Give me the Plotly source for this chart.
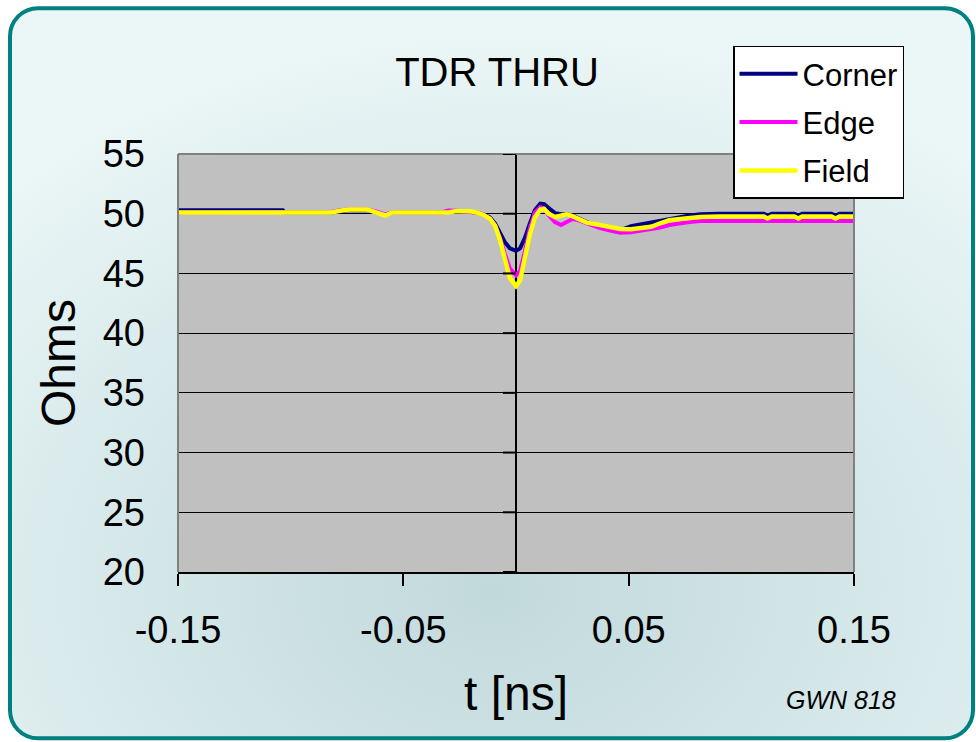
import base64
import plotly.graph_objects as go

# ---- TDR thru measurements (impedance in ohms vs time in ns) ----
t_ns = [-0.150, -0.1035, -0.1025, -0.082, -0.078, -0.074, -0.066, -0.062, -0.058, -0.055,
        -0.033, -0.030, -0.027, -0.020, -0.0175, -0.0145, -0.0116, -0.0093, -0.0071, -0.0049,
        -0.0027, 0.0, 0.0018, 0.0040, 0.0062, 0.0084, 0.0108, 0.0125, 0.0144, 0.0173,
        0.0200, 0.0225, 0.0250, 0.0270, 0.0314, 0.0373, 0.0418, 0.0462, 0.0510, 0.0551,
        0.0600, 0.0640, 0.0680, 0.0729, 0.0770, 0.0818, 0.0900, 0.1100, 0.1116, 0.1135,
        0.1235, 0.1253, 0.1270, 0.1400, 0.1418, 0.1436, 0.150]

corner = [50.3, 50.3, 50.1, 50.1, 50.2, 50.3, 50.3, 50.1, 49.9, 50.1,
          50.1, 50.2, 50.2, 50.15, 50.1, 49.95, 49.7, 49.2, 48.4, 47.6,
          47.1, 46.9, 47.1, 48.0, 49.2, 50.3, 50.85, 50.8, 50.5, 50.05,
          49.95, 49.95, 49.85, 49.7, 49.3, 48.95, 48.75, 48.6, 48.95, 49.1,
          49.25, 49.45, 49.6, 49.75, 49.85, 49.95, 50.0, 50.0, 49.85, 50.0,
          50.0, 49.85, 50.0, 50.0, 49.85, 50.0, 50.0]

edge = [50.1, 50.1, 50.1, 50.15, 50.3, 50.35, 50.35, 50.2, 49.95, 50.1,
        50.1, 50.27, 50.25, 50.2, 50.1, 49.9, 49.6, 49.0, 48.0, 46.6,
        45.4, 44.85, 45.2, 46.9, 48.8, 50.1, 50.55, 50.4, 49.9, 49.3,
        49.05, 49.3, 49.55, 49.5, 49.2, 48.8, 48.6, 48.4, 48.45, 48.55,
        48.7, 48.85, 49.05, 49.2, 49.3, 49.38, 49.4, 49.4, 49.4, 49.4,
        49.4, 49.4, 49.4, 49.4, 49.4, 49.4, 49.4]

field = [50.1, 50.1, 50.1, 50.1, 50.25, 50.35, 50.35, 50.1, 49.85, 50.1,
         50.1, 50.1, 50.2, 50.2, 50.1, 49.9, 49.58, 49.0, 47.8, 46.1,
         44.6, 43.95, 44.4, 46.4, 48.3, 49.7, 50.35, 50.4, 50.0, 49.72,
         49.85, 49.95, 49.8, 49.6, 49.25, 49.05, 48.88, 48.72, 48.7, 48.8,
         48.9, 49.2, 49.45, 49.55, 49.65, 49.72, 49.77, 49.77, 49.6, 49.77,
         49.77, 49.6, 49.77, 49.77, 49.6, 49.77, 49.77]

series_names = ["Corner", "Edge", "Field"]
series_colors = ["#000080", "#ff00ff", "#ffff00"]

x_tick_vals = [-0.15, -0.05, 0.05, 0.15]
x_tick_text = ["-0.15", "-0.05", "0.05", "0.15"]
y_tick_vals = [20, 25, 30, 35, 40, 45, 50, 55]

# ---- page geometry ----
W, H = 976, 742
ML, MR, MT, MB = 178, 122, 153.5, 170
PW, PH = W - ML - MR, H - MT - MB

FONT = "Liberation Sans, Arial, sans-serif"

# rounded teal frame with soft gradient fill, used as the page backdrop
frame_svg = f"""<svg xmlns="http://www.w3.org/2000/svg" width="{W}" height="{H}" viewBox="0 0 {W} {H}" preserveAspectRatio="none">
<defs>
<radialGradient id="g" cx="0.52" cy="0.78" r="0.75" fx="0.5" fy="0.8">
<stop offset="0" stop-color="#c2d9dc"/>
<stop offset="0.55" stop-color="#d6e8ea"/>
<stop offset="1" stop-color="#ebf6f6"/>
</radialGradient>
</defs>
<rect x="10" y="7.5" width="963" height="731" rx="28" ry="28" fill="url(#g)" stroke="#008080" stroke-width="4"/>
</svg>"""
frame_uri = "data:image/svg+xml;base64," + base64.b64encode(frame_svg.encode()).decode()

fig = go.Figure()
for name, color, vals in zip(series_names, series_colors, [corner, edge, field]):
    fig.add_trace(go.Scatter(
        x=t_ns, y=vals, name=name, mode="lines", legendgroup=name,
        line=dict(color=color, width=4.5 if name == "Field" else 4),
    ))

shapes = [
    # grey plot-area fill
    dict(type="rect", xref="paper", yref="paper", x0=0, x1=1, y0=0, y1=1,
         fillcolor="#c0c0c0", line=dict(width=0), layer="below"),
    # grey plot-area border (top, left, right)
    dict(type="line", xref="paper", yref="paper", x0=0, x1=1, y0=1, y1=1,
         line=dict(color="#808080", width=2), layer="above"),
    dict(type="line", xref="paper", yref="paper", x0=0, x1=0, y0=0, y1=1,
         line=dict(color="#808080", width=2), layer="above"),
    dict(type="line", xref="paper", yref="paper", x0=1, x1=1, y0=0, y1=1,
         line=dict(color="#808080", width=2), layer="above"),
]
# tick marks on the vertical axis that crosses at t = 0
for yv in y_tick_vals:
    shapes.append(dict(type="line", xref="x", yref="y", x0=-0.0058, x1=0, y0=yv, y1=yv,
                       line=dict(color="black", width=2), layer="above"))

fig.update_layout(
    width=W, height=H,
    margin=dict(l=ML, r=MR, t=MT, b=MB, autoexpand=False),
    paper_bgcolor="white",
    plot_bgcolor="#c0c0c0",
    font=dict(family=FONT, color="black"),
    title=dict(text="TDR THRU", x=497 / W, xref="container", xanchor="center",
               y=1 - 72 / H, yref="container", yanchor="middle",
               font=dict(size=40, family=FONT, color="black")),
    showlegend=True,
    legend=dict(x=(733 - ML) / PW, y=(H - MB - 45) / PH, xanchor="left", yanchor="top",
                xref="paper", yref="paper",
                bgcolor="white", bordercolor="black", borderwidth=1.5,
                font=dict(size=31, family=FONT, color="black"),
                itemwidth=58, tracegroupgap=5, traceorder="grouped"),
    xaxis=dict(range=[-0.15, 0.15], tickvals=x_tick_vals, ticktext=x_tick_text,
               showgrid=False, zeroline=True, zerolinecolor="black", zerolinewidth=1.5,
               showline=True, linecolor="black", linewidth=1.5,
               ticks="outside", ticklen=12, tickwidth=1.5, tickcolor="black",
               ticklabelstandoff=12,
               tickfont=dict(size=38, family=FONT, color="black"),
               title=dict(text="t [ns]", standoff=26,
                          font=dict(size=48, family=FONT, color="black")),
               automargin=False),
    yaxis=dict(range=[20, 55], tickvals=y_tick_vals,
               showgrid=True, gridcolor="black", gridwidth=1.3,
               zeroline=False, showline=False, ticks="",
               ticklabelstandoff=32,
               tickfont=dict(size=38, family=FONT, color="black"),
               title=dict(text="Ohms", standoff=11,
                          font=dict(size=48, family=FONT, color="black")),
               automargin=False),
    shapes=shapes,
    images=[dict(source=frame_uri, xref="paper", yref="paper",
                 x=-ML / PW, y=1 + MT / PH, sizex=W / PW, sizey=H / PH,
                 xanchor="left", yanchor="top", sizing="stretch", layer="below")],
    annotations=[dict(text="<i>GWN 818</i>", xref="paper", yref="paper",
                      x=(898 - ML) / PW, y=-(700 - (H - MB)) / PH,
                      xanchor="right", yanchor="middle", showarrow=False,
                      font=dict(size=25, family=FONT, color="black"))],
)

fig.write_html("out.html")
